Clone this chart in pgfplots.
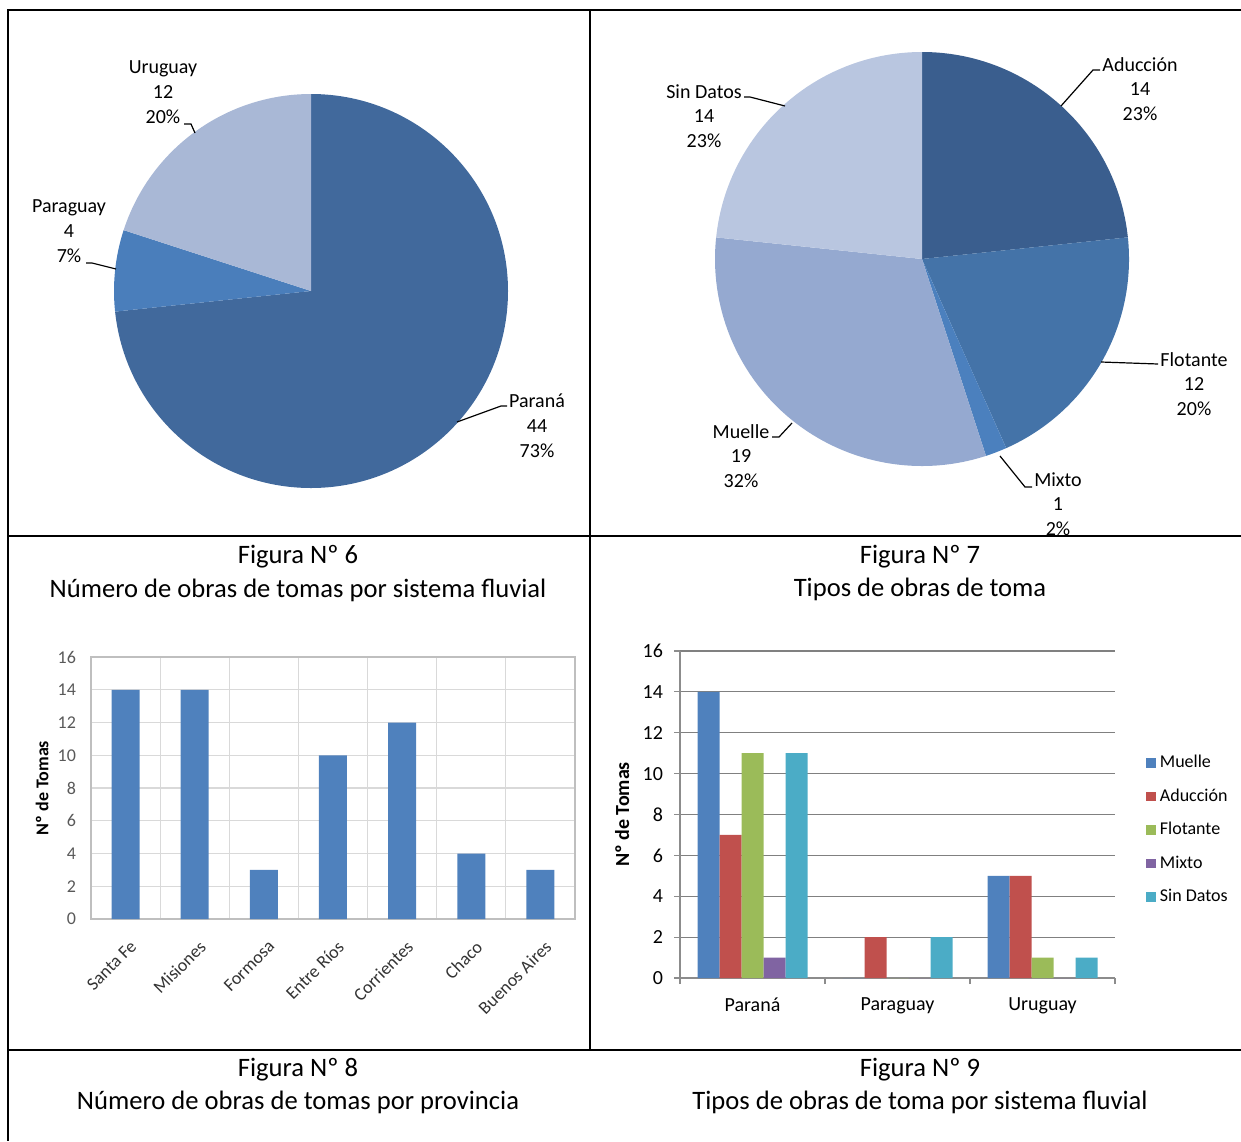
\documentclass[border=0pt]{standalone}
\usepackage{fontspec}
\setmainfont{Carlito}
\usepackage{pgfplots}
\pgfplotsset{compat=1.18}
\pgfplotsset{/pgf/number format/assume math mode=true}
\definecolor{pA}{RGB}{65,105,156}
\definecolor{pB}{RGB}{74,126,187}
\definecolor{pC}{RGB}{169,184,214}
\definecolor{qA}{RGB}{58,94,142}
\definecolor{qF}{RGB}{68,115,168}
\definecolor{qM}{RGB}{75,128,190}
\definecolor{qU}{RGB}{149,169,208}
\definecolor{qS}{RGB}{185,198,224}
\definecolor{cMu}{RGB}{79,129,189}
\definecolor{cAd}{RGB}{192,80,77}
\definecolor{cFl}{RGB}{155,187,89}
\definecolor{cMi}{RGB}{128,100,162}
\definecolor{cSD}{RGB}{75,172,198}
\pgfplotsset{sq/.style={legend image code/.code={\fill[##1] (0pt,-2.4pt) rectangle (4.8pt,2.4pt);}}}
\begin{document}
\begin{tikzpicture}[x=0.5pt,y=-0.5pt]
\useasboundingbox (0,0) rectangle (1241,1141);
% ---------- table frame ----------
\draw[line width=1.3pt] (8,10) -- (1241,10);
\draw[line width=1.3pt] (8,9.4) -- (8,1141);
\draw[line width=1.1pt] (590,10) -- (590,1050);
\draw[line width=1.3pt] (8,536) -- (617,536);
\draw[line width=0.6pt] (617,536) -- (1227,536);
\draw[line width=1.3pt] (1227,536) -- (1241,536);
\draw[line width=1.3pt] (8,1050) -- (1241,1050);
% ---------- captions ----------
\begin{scope}[every node/.style={font=\fontsize{13.3}{16}\selectfont}]
\node at (298,557) {Figura Nº 6};
\node at (298,590) {Número de obras de tomas por sistema fluvial};
\node at (920,557) {Figura Nº 7};
\node at (920,589) {Tipos de obras de toma};
\node at (298,1070) {Figura Nº 8};
\node at (298,1102) {Número de obras de tomas por provincia};
\node at (920,1070) {Figura Nº 9};
\node at (920,1102) {Tipos de obras de toma por sistema fluvial};
\end{scope}
% ---------- Figure 6 pie ----------
\begin{axis}[at={(155.5pt,-145.5pt)},anchor=center,x=0.5pt,y=0.5pt,
  xmin=-220,xmax=220,ymin=-220,ymax=220,hide axis,clip=false]
\addplot[draw=none] coordinates {(0,0)};
% Paraná 44, Paraguay 4, Uruguay 12 (total 60)
\fill[pA] (axis cs:0,0) -- ++(90:98.5pt) arc[start angle=90,end angle={90-44/60*360},radius=98.5pt] -- cycle;
\fill[pB] (axis cs:0,0) -- ++({90-44/60*360}:98.5pt) arc[start angle={90-44/60*360},end angle={90-48/60*360},radius=98.5pt] -- cycle;
\fill[pC] (axis cs:0,0) -- ++({90-48/60*360}:98.5pt) arc[start angle={90-48/60*360},end angle={90-60/60*360},radius=98.5pt] -- cycle;
\end{axis}
% ---------- Figure 7 pie ----------
\begin{axis}[at={(461pt,-129.5pt)},anchor=center,x=0.5pt,y=0.5pt,
  xmin=-220,xmax=220,ymin=-220,ymax=220,hide axis,clip=false]
\addplot[draw=none] coordinates {(0,0)};
% Aducción 14, Flotante 12, Mixto 1, Muelle 19, Sin Datos 14 (total 60)
\fill[qA] (axis cs:0,0) -- ++(90:103.5pt) arc[start angle=90,end angle={90-14/60*360},radius=103.5pt] -- cycle;
\fill[qF] (axis cs:0,0) -- ++({90-14/60*360}:103.5pt) arc[start angle={90-14/60*360},end angle={90-26/60*360},radius=103.5pt] -- cycle;
\fill[qM] (axis cs:0,0) -- ++({90-26/60*360}:103.5pt) arc[start angle={90-26/60*360},end angle={90-27/60*360},radius=103.5pt] -- cycle;
\fill[qU] (axis cs:0,0) -- ++({90-27/60*360}:103.5pt) arc[start angle={90-27/60*360},end angle={90-46/60*360},radius=103.5pt] -- cycle;
\fill[qS] (axis cs:0,0) -- ++({90-46/60*360}:103.5pt) arc[start angle={90-46/60*360},end angle={90-60/60*360},radius=103.5pt] -- cycle;
\end{axis}
% ---------- pie labels ----------
\begin{scope}[every node/.style={font=\fontsize{10}{12.4}\selectfont,align=center}]
\node at (163,92) {Uruguay\\12\\20\%};
\node at (69,231) {Paraguay\\4\\7\%};
\node at (537,426) {Paraná\\44\\73\%};
\node at (704,116) {Sin Datos\\14\\23\%};
\node at (1140,89) {Aducción\\14\\23\%};
\node at (1194,384) {Flotante\\12\\20\%};
\node at (1058,504) {Mixto\\1\\2\%};
\node at (741,456) {Muelle\\19\\32\%};
\end{scope}
\begin{scope}[line width=0.6pt]
\draw (184,124) -- (191,124) -- (195,133);
\draw (86,263) -- (92,263) -- (116,269);
\draw (457,422) -- (501,406) -- (507,406);
\draw (744,97) -- (750,97) -- (785,106);
\draw (1100,70) -- (1093,70) -- (1061,106);
\draw (1158,364) -- (1101,362);
\draw (1032,487) -- (1025,487) -- (1000,456);
\draw (772,437) -- (779,437) -- (792,423);
\end{scope}
% ---------- Figure 8 bars ----------
\begin{axis}[at={(45.5pt,-328.5pt)},anchor=north west,width=242pt,height=131pt,scale only axis,
  ymin=0,ymax=16,ytick={0,2,...,16},xmin=-0.5,xmax=6.5,
  xtick={0,...,6},xticklabels={Santa Fe,Misiones,Formosa,Entre Ríos,Corrientes,Chaco,Buenos Aires},
  minor xtick={-0.5,0.5,1.5,2.5,3.5,4.5,5.5,6.5},xminorgrids,ymajorgrids,
  grid style={draw=black!15,line width=0.6pt},
  axis line style={draw=black!25,line width=0.6pt},
  major tick length=0pt,minor tick length=0pt,
  ybar,bar width=14pt,
  yticklabel style={font=\fontsize{9}{11}\selectfont,text=black!65,xshift=-4pt},
  xticklabel style={font=\fontsize{9}{11}\selectfont,text=black!80,rotate=45,anchor=north east,xshift=-2.5pt,yshift=-5pt},
  ylabel={\bfseries Nº de Tomas},
  ylabel style={font=\fontsize{9}{11}\selectfont,at={(axis description cs:-0.101,0.5)},anchor=center}]
\addplot[fill=cMu,draw=none] coordinates {(0,14) (1,14) (2,3) (3,10) (4,12) (5,4) (6,3)};
\end{axis}
% ---------- Figure 9 bars ----------
\begin{axis}[at={(340pt,-325.5pt)},anchor=north west,width=217.5pt,height=163.5pt,scale only axis,
  ymin=0,ymax=16,ytick={0,2,...,16},xmin=-0.5,xmax=2.5,
  xtick={0,1,2},xticklabels={Paraná,Paraguay,Uruguay},
  minor xtick={-0.5,0.5,1.5,2.5},
  axis x line*=bottom,axis y line*=left,
  axis line style={draw=black!45,line width=0.6pt,-},
  ymajorgrids,grid style={draw=black!50,line width=0.6pt},
  tick align=outside,major tick length=3pt,minor tick length=3pt,
  major x tick style={draw=none},
  tick style={draw=black!45,line width=0.6pt},
  ybar=0pt,bar width=11pt,
  yticklabel style={font=\fontsize{10}{12}\selectfont,xshift=-2pt},
  xticklabel style={font=\fontsize{10}{12}\selectfont,yshift=-3.5pt},
  ylabel={\bfseries Nº de Tomas},
  ylabel style={font=\fontsize{10}{12}\selectfont,at={(axis description cs:-0.133,0.5)},anchor=center},
  legend style={at={(axis description cs:1.071,0.453)},anchor=west,draw=none,inner sep=0pt,
    font=\fontsize{9}{11}\selectfont,row sep=5pt},
  legend cell align=left]
\addplot[fill=cMu,draw=none,sq] coordinates {(0,14) (1,0) (2,5)};
\addplot[fill=cAd,draw=none,sq] coordinates {(0,7) (1,2) (2,5)};
\addplot[fill=cFl,draw=none,sq] coordinates {(0,11) (1,0) (2,1)};
\addplot[fill=cMi,draw=none,sq] coordinates {(0,1) (1,0) (2,0)};
\addplot[fill=cSD,draw=none,sq] coordinates {(0,11) (1,2) (2,1)};
\legend{Muelle,Aducción,Flotante,Mixto,Sin Datos}
\end{axis}
\end{tikzpicture}
\end{document}
